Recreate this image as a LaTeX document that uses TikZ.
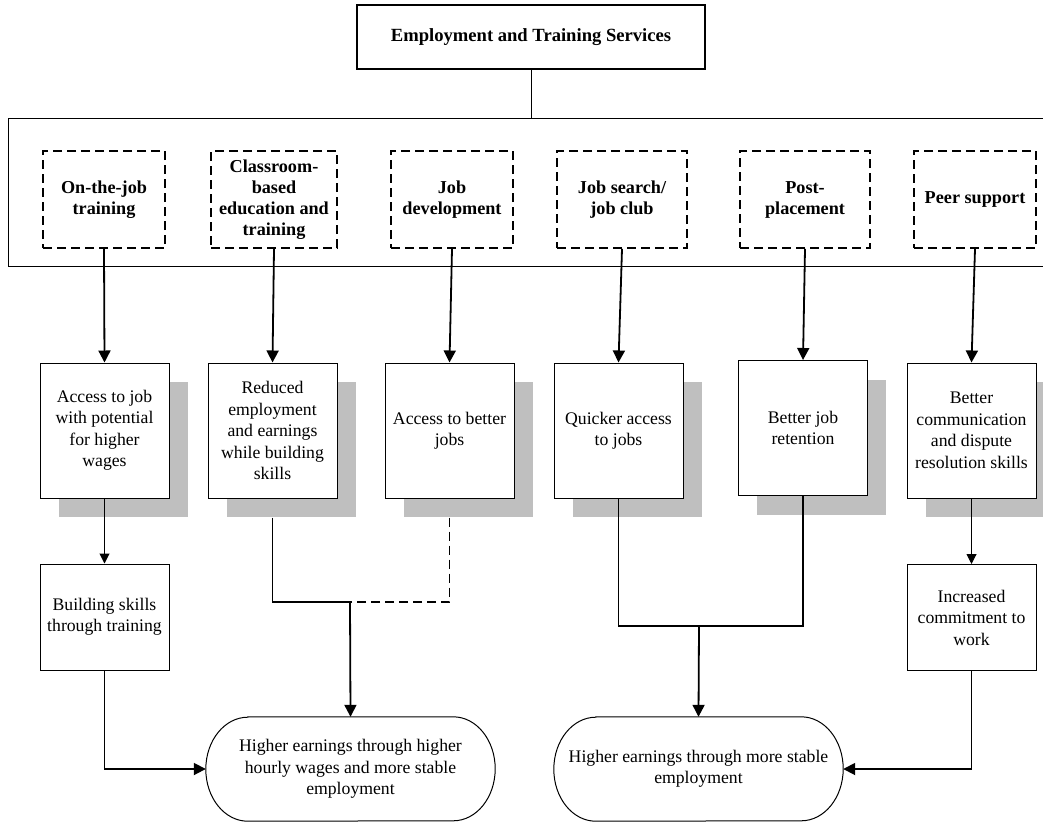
\documentclass[tikz,border=0pt]{standalone}
\usepackage{fontspec}
\setmainfont{Liberation Serif}
\usetikzlibrary{arrows.meta,shadows}

\newcommand\goalshape[1]{%
  \draw[line width=1pt] ([xshift=42pt]#1.north west) -- ([xshift=-42pt]#1.north east)
    arc[start angle=90,end angle=-90,x radius=42pt,y radius=52pt]
    -- ([xshift=42pt]#1.south west)
    arc[start angle=270,end angle=90,x radius=42pt,y radius=52pt] -- cycle;}

\begin{document}
\begin{tikzpicture}[x=1pt,y=-1pt,font=\fontsize{17.7}{21.5}\selectfont]
\tikzset{
  program/.style={draw, line width=1.8pt, dash pattern=on 9pt off 5pt, minimum height=97pt,
    align=center, inner sep=2pt, font=\fontsize{18.2}{21}\selectfont\bfseries},
  effect/.style={draw, fill=white, line width=1pt, minimum width=129pt, minimum height=135pt,
    align=center, inner sep=2pt,
    general shadow={fill=black!25, shadow xshift=18.5pt, shadow yshift=-19pt}},
  result/.style={draw, fill=white, line width=1pt, minimum width=129pt, minimum height=106pt,
    align=center, inner sep=2pt},
  goal/.style={minimum width=289pt, minimum height=104pt, align=center, inner sep=0pt},
  link/.style={line width=1.8pt, -{Triangle[length=12pt,width=12pt]}},
  slim link/.style={line width=1pt, -{Triangle[length=10pt,width=10pt]}},
}
\useasboundingbox (0,0) rectangle (1043,822);
\clip (0,0) rectangle (1043,822);

\node[draw, line width=1.2pt, minimum width=348pt, minimum height=64pt,
  font=\fontsize{18.6}{21}\selectfont\bfseries] (ets) at (531,37) {Employment and Training Services};
\node[draw, line width=1pt, minimum width=1070pt, minimum height=148pt] (grp) at (543,192) {};
\draw[line width=1pt] (ets.south) -- (ets.south |- grp.north);

\node[program, minimum width=122pt] (ojt) at (104,199.5) {On-the-job\\training};
\node[program, minimum width=126pt] (cls) at (274,199.5) {Classroom-\\based\\education and\\training};
\node[program, minimum width=122pt] (jdv) at (452,199.5) {Job\\development};
\node[program, minimum width=130pt] (jsc) at (622,199.5) {Job search/\\job club};
\node[program, minimum width=130pt] (pst) at (805,199.5) {Post-\\placement};
\node[program, minimum width=122pt] (peer) at (975,199.5) {Peer support};

\node[effect] (eacc) at (104.5,430.5) {Access to job\\with potential\\for higher\\wages};
\node[effect] (ered) at (272.5,430.5) {Reduced\\employment\\and earnings\\while building\\skills};
\node[effect] (ebet) at (449.5,430.5) {Access to better\\jobs};
\node[effect] (equi) at (618.5,430.5) {Quicker access\\to jobs};
\node[effect] (eret) at (803,428) {Better job\\retention};
\node[effect] (ecom) at (971.5,430.5) {Better\\communication\\and dispute\\resolution skills};

\node[result] (bsk) at (104.5,617) {Building skills\\through training};
\node[result] (inc) at (971.5,617.5) {Increased\\commitment to\\work};

\node[goal] (hw) at (350.5,769) {Higher earnings through higher\\hourly wages and more stable\\employment};
\goalshape{hw}
\node[goal] (rs) at (698.5,769) {Higher earnings through more stable\\employment};
\goalshape{rs}

\draw[link] (ojt.south) -- (eacc.north);
\draw[link] (cls.south) -- (ered.north);
\draw[link] (jdv.south) -- (ebet.north);
\draw[link] (jsc.south) -- (equi.north);
\draw[link] (pst.south) -- (eret.north);
\draw[link] (peer.south) -- (ecom.north);

\draw[slim link] (eacc.south) -- (bsk.north);
\draw[slim link] (ecom.south) -- (inc.north);

\coordinate (j1) at (350,602);
\coordinate (j2) at (699,626);
\draw[line width=1.8pt] ([yshift=-19pt]ered.south) |- (j1);
\draw[line width=1.8pt, dash pattern=on 9pt off 5pt] ([yshift=-19pt]ebet.south) |- (j1);
\draw[link] (j1) -- (hw.north);
\draw[line width=1.8pt] (equi.south) |- (j2) -| (eret.south);
\draw[link] (j2) -- (rs.north);

\draw[link] (bsk.south) |- (hw.west);
\draw[link] (inc.south) |- (rs.east);
\end{tikzpicture}
\end{document}
